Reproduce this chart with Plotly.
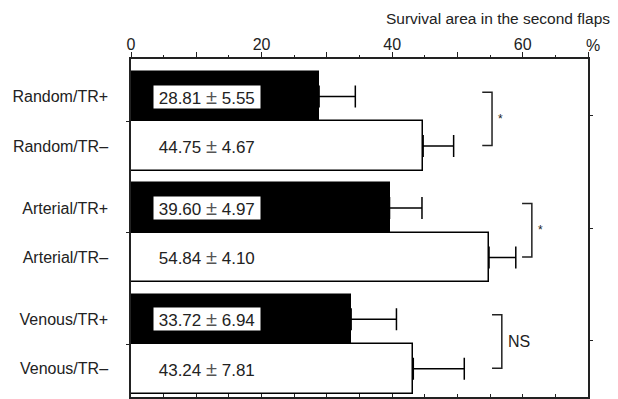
import plotly.graph_objects as go

# ---- data ----
groups = ["Random", "Arterial", "Venous"]
conditions = ["TR+", "TR–"]
labels = ["Random/TR+", "Random/TR–", "Arterial/TR+", "Arterial/TR–", "Venous/TR+", "Venous/TR–"]
means = [28.81, 44.75, 39.60, 54.84, 33.72, 43.24]
sds = [5.55, 4.67, 4.97, 4.10, 6.94, 7.81]
sig_labels = ["*", "*", "NS"]
x_ticks = [0, 10, 20, 30, 40, 50, 60, 70]
x_ticktext = ["0", "", "20", "", "40", "", "60", ""]

# ---- layout constants ----
GAP = 0.25
FONT = "Liberation Sans, Arial, sans-serif"
bracket_x = [55.3, 61.4, 56.8]
ARM = 1.5

pos = [g * (2 + GAP) + i for g in range(len(groups)) for i in range(len(conditions))]
is_plus = [i == 0 for g in range(len(groups)) for i in range(len(conditions))]
boundaries = [g * (2 + GAP) + 0.5 for g in range(len(groups))]

fig = go.Figure()

fig.add_trace(go.Bar(
    orientation="h", y=pos, x=means, width=1.0,
    marker=dict(color=["black" if p else "white" for p in is_plus],
                line=dict(color="black", width=1.5)),
    error_x=dict(type="data", symmetric=False, array=sds, arrayminus=[0] * len(sds),
                 color="black", thickness=1.5, width=11),
    showlegend=False, hoverinfo="skip",
))

# significance brackets
for g in range(len(groups)):
    top = pos[2 * g] - 0.09
    bot = pos[2 * g + 1] - 0.01
    bx = bracket_x[g]
    fig.add_trace(go.Scatter(
        x=[bx - ARM, bx, bx, bx - ARM], y=[top, top, bot, bot], mode="lines",
        line=dict(color="#222", width=1.5), showlegend=False, hoverinfo="skip"))
    fig.add_annotation(x=bx + 0.6, y=(top + bot) / 2, text=sig_labels[g], showarrow=False,
                       xanchor="left", yanchor="middle",
                       font=dict(size=12 if sig_labels[g] == "*" else 16, color="#222", family=FONT))

# value labels
for p, m, s, plus in zip(pos, means, sds, is_plus):
    txt = f"\u00a0{m:.2f} <span style='font-size:20px;color:#555'>±</span> {s:.2f}\u00a0"
    fig.add_annotation(x=3.35, y=p, text=txt, showarrow=False, xanchor="left", yanchor="middle",
                       bgcolor="white" if plus else "rgba(0,0,0,0)", borderpad=0,
                       font=dict(size=17, color="#222", family=FONT))

# dummy traces to activate extra axes
fig.add_trace(go.Scatter(x=[0], y=[0], xaxis="x2", yaxis="y2", mode="markers",
                         marker=dict(opacity=0), showlegend=False, hoverinfo="skip"))
fig.add_trace(go.Scatter(x=[0], y=[0], xaxis="x2", yaxis="y3", mode="markers",
                         marker=dict(opacity=0), showlegend=False, hoverinfo="skip"))

yr = [6.07, -0.76]
fig.update_layout(
    width=618, height=399,
    margin=dict(l=131, r=30, t=59, b=2),
    paper_bgcolor="white", plot_bgcolor="white",
    font=dict(family=FONT, color="#222", size=16),
    xaxis=dict(side="top", range=[0, 70], tickvals=x_ticks, ticktext=x_ticktext,
               ticks="outside", ticklen=5, tickwidth=1.2, tickcolor="#222", ticklabelstandoff=-4,
               minor=dict(dtick=5, tick0=0, ticks="outside", ticklen=2, tickcolor="#222", showgrid=False),
               showline=True, linecolor="#222", linewidth=1.5, showgrid=False, zeroline=False,
               tickfont=dict(size=16)),
    xaxis2=dict(overlaying="x", side="bottom", range=[0, 70], dtick=5, tick0=0,
                ticks="inside", ticklen=3, tickcolor="#222", showticklabels=False,
                showline=True, linecolor="#222", linewidth=1.5, showgrid=False, zeroline=False),
    yaxis=dict(range=yr, tickvals=pos, ticktext=labels, ticks="", ticklabelstandoff=18,
               showline=True, linecolor="#222", linewidth=1.5, showgrid=False, zeroline=False,
               tickfont=dict(size=16)),
    yaxis2=dict(overlaying="y", side="right", range=[3, 0], tickvals=[0.5, 1.5, 2.5],
                ticks="outside", ticklen=3, tickcolor="#222", showticklabels=False,
                showline=True, linecolor="#222", linewidth=1.5, showgrid=False, zeroline=False),
    yaxis3=dict(overlaying="y", side="left", range=yr, tickvals=boundaries,
                ticks="outside", ticklen=4, tickcolor="#222", showticklabels=False,
                showline=False, showgrid=False, zeroline=False),
    bargap=0,
)

fig.add_annotation(xref="paper", yref="paper", x=1.0525, y=1.121, text="Survival area in the second flaps",
                   showarrow=False, xanchor="right", yanchor="middle", font=dict(size=15.5, color="#222"))
fig.add_annotation(xref="paper", yref="paper", x=1.011, y=1.041, text="%",
                   showarrow=False, xanchor="center", yanchor="middle", font=dict(size=16, color="#222"))

fig.write_html("out.html")
